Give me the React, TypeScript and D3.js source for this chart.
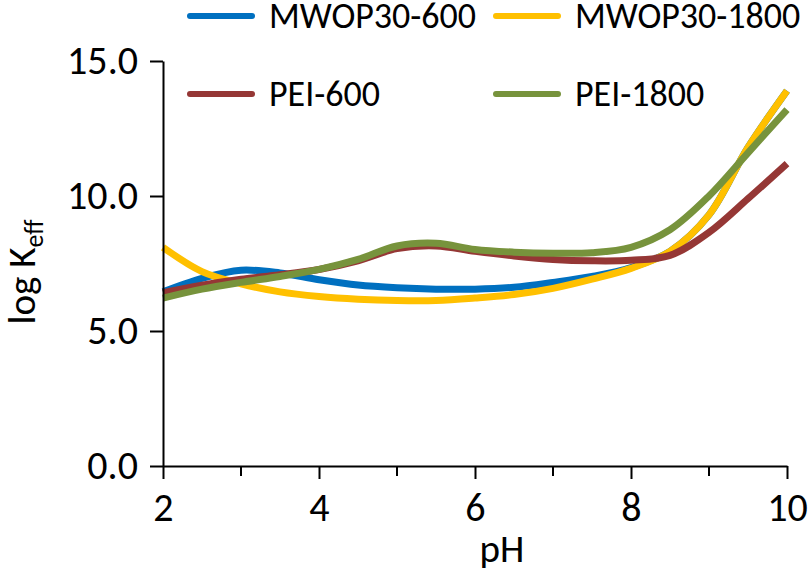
import React, { useEffect, useRef } from 'react';
import * as d3 from 'd3';

const pH = [2, 2.5, 3, 3.5, 4, 4.5, 5, 5.5, 6, 6.5, 7, 7.5, 8, 8.5, 9, 9.5, 10];
const mwop600 = [6.45, 6.95, 7.25, 7.15, 6.9, 6.7, 6.6, 6.55, 6.55, 6.62, 6.8, 7.02, 7.35, 7.95, 9.3, 11.8, 13.9];
const mwop1800 = [8.1, 7.2, 6.75, 6.45, 6.28, 6.18, 6.13, 6.13, 6.22, 6.35, 6.58, 6.92, 7.32, 7.95, 9.3, 11.8, 13.9];
const pei600 = [6.42, 6.7, 6.92, 7.08, 7.28, 7.6, 8.05, 8.15, 7.95, 7.78, 7.65, 7.6, 7.62, 7.8, 8.65, 9.9, 11.2];
const pei1800 = [6.22, 6.55, 6.8, 7.02, 7.28, 7.65, 8.15, 8.25, 8.02, 7.92, 7.88, 7.9, 8.1, 8.75, 10.0, 11.6, 13.2];

const seriesNames = ['MWOP30-600', 'MWOP30-1800', 'PEI-600', 'PEI-1800'];
const seriesValues = [mwop600, mwop1800, pei600, pei1800];
const colors = ['#0070C0', '#FFC000', '#953735', '#77933C'];
const yTicks = [0, 5, 10, 15];
const xMajor = [2, 4, 6, 8, 10];
const xMinor = [3, 5, 7, 9];

const font = "Carlito, 'Open Sans', sans-serif";

const App = () => {
    const svgRef = useRef(null);
    const width = 812, height = 574;

    useEffect(() => {
        const svg = d3.select(svgRef.current);
        svg.selectAll('*').remove();

        const x = d3.scaleLinear().domain([2, 10]).range([163, 787]);
        const y = d3.scaleLinear().domain([0, 15]).range([466, 61]);

        const drawLine = d3.line()
            .x(d => x(d[0]))
            .y(d => y(d[1]))
            .curve(d3.curveCatmullRom.alpha(0.5));

        // lines
        const g = svg.append('g').attr('class', 'lines');
        seriesValues.forEach((vals, i) => {
            g.append('path')
                .datum(pH.map((p, j) => [p, vals[j]]))
                .attr('d', drawLine)
                .attr('fill', 'none')
                .attr('stroke', colors[i])
                .attr('stroke-width', 7)
                .attr('stroke-linecap', 'butt');
        });

        // y axis
        const yAxis = svg.append('g')
            .attr('transform', `translate(${x(2)},0)`)
            .call(d3.axisLeft(y).tickValues(yTicks).tickSize(13).tickSizeOuter(0).tickPadding(12).tickFormat(d3.format('.1f')));
        yAxis.select('.domain').attr('stroke-width', 2);
        yAxis.selectAll('.tick line').attr('stroke-width', 2);
        yAxis.selectAll('text').attr('font-family', font).attr('font-size', 40).attr('fill', '#000');

        // x axis
        const xAxis = svg.append('g')
            .attr('transform', `translate(0,${y(0)})`)
            .call(d3.axisBottom(x).tickValues(xMajor).tickSize(13).tickSizeOuter(0).tickPadding(14).tickFormat(d3.format('d')));
        xAxis.select('.domain').attr('stroke-width', 2);
        xAxis.selectAll('.tick line').attr('stroke-width', 2);
        xAxis.selectAll('text').attr('font-family', font).attr('font-size', 40).attr('fill', '#000');

        svg.append('g')
            .attr('transform', `translate(0,${y(0)})`)
            .selectAll('line')
            .data(xMinor)
            .enter()
            .append('line')
            .attr('x1', d => x(d))
            .attr('x2', d => x(d))
            .attr('y1', 0)
            .attr('y2', 10)
            .attr('stroke', '#000')
            .attr('stroke-width', 2);

        // axis titles
        svg.append('text')
            .attr('x', 502)
            .attr('y', 562)
            .attr('text-anchor', 'middle')
            .attr('font-family', font)
            .attr('font-size', 39)
            .text('pH');

        const yTitle = svg.append('text')
            .attr('transform', 'translate(35,272) rotate(-90)')
            .attr('text-anchor', 'middle')
            .attr('font-family', font)
            .attr('font-size', 39);
        yTitle.append('tspan').text('log K');
        yTitle.append('tspan').attr('dy', 8).attr('font-size', 26).text('eff');

        // legend
        const legend = svg.append('g');
        seriesNames.forEach((name, i) => {
            const lx = 190 + (i % 2) * 306;
            const ly = 16 + Math.floor(i / 2) * 78;
            legend.append('line')
                .attr('x1', lx).attr('x2', lx + 62)
                .attr('y1', ly).attr('y2', ly)
                .attr('stroke', colors[i])
                .attr('stroke-width', 6)
                .attr('stroke-linecap', 'round');
            legend.append('text')
                .attr('x', lx + 79)
                .attr('y', ly + 12)
                .attr('font-family', font)
                .attr('font-size', 36)
                .text(name);
        });
    }, []);

    return (
        <svg
            ref={svgRef}
            width={width}
            height={height}
            style={{ position: 'absolute', left: 0, top: 0, background: '#fff' }}
        />
    );
};

export default App;
